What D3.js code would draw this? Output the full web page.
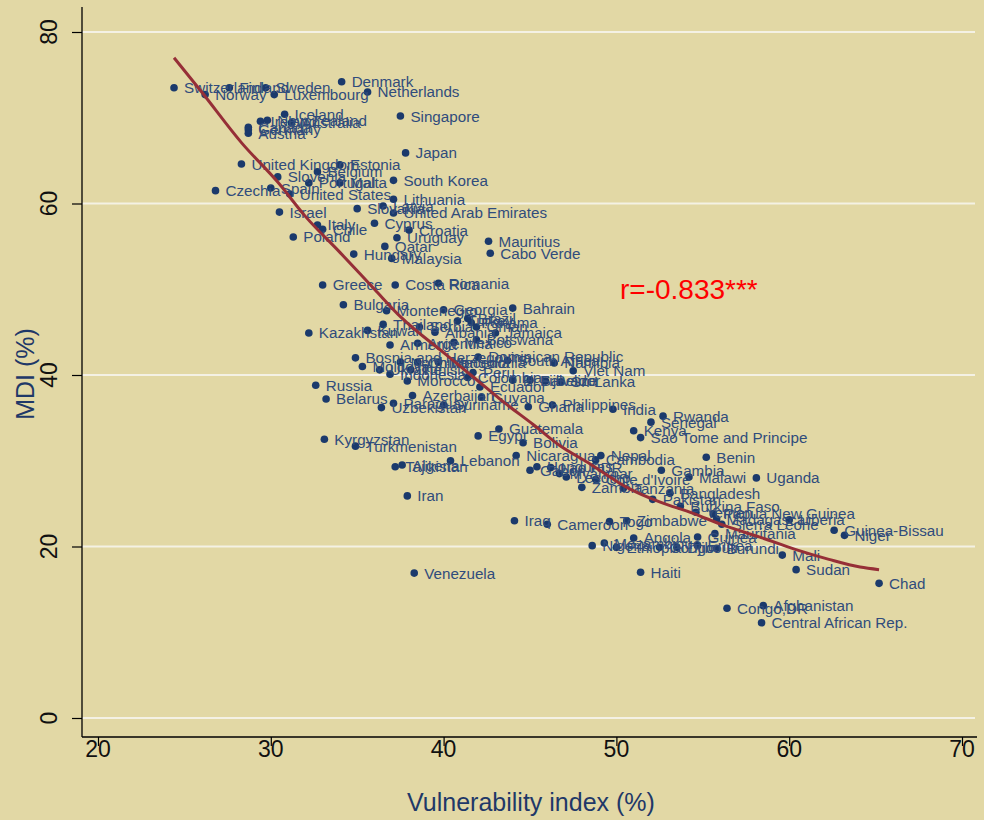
<!DOCTYPE html>
<html>
<head>
<meta charset="utf-8">
<script src="https://cdn.jsdelivr.net/npm/d3@7"></script>
<style>
  html, body { margin: 0; padding: 0; background: #e2d8a5; }
  svg { display: block; font-family: "Liberation Sans", Arial, sans-serif; }
</style>
</head>
<body>
<svg id="chart" width="984" height="820"></svg>
<script>
// Country names, vulnerability index (%) and MDI (%)
const countries = [
  "Switzerland","Norway","Finland","Sweden","Luxembourg","Denmark","Netherlands","Singapore",
  "Iceland","Ireland","New Zealand","Australia","Canada","Germany","Austria",
  "United Kingdom","Estonia","Belgium","Slovenia","Spain","Portugal","Malta","Czechia",
  "United States","Israel","Italy","Chile","Poland","Slovakia","Latvia","Lithuania",
  "South Korea","Japan","United Arab Emirates","Cyprus","Croatia","Uruguay","Qatar","Malaysia",
  "Hungary","Mauritius","Cabo Verde","Greece","Costa Rica","Romania","Bulgaria","Montenegro",
  "Georgia","Bahrain","Kazakhstan","Kuwait","Thailand","Serbia","Albania","Turkey","Brazil",
  "Panama","Oman","Jamaica","Armenia","Argentina","Mexico","Botswana","Bosnia and Herzegovina",
  "Moldova","Ukraine","Indonesia","North Macedonia","Tunisia","China","Mongolia",
  "Dominican Republic","South Africa","Namibia","Viet Nam","Peru","Colombia","Ecuador",
  "El Salvador","Fiji","Belize","Sri Lanka","Morocco","Azerbaijan","Paraguay","Uzbekistan",
  "Suriname","Guyana","Ghana","Philippines","Russia","Belarus","India","Guatemala","Egypt",
  "Bolivia","Kyrgyzstan","Turkmenistan","Algeria","Tajikistan","Lebanon","Iran","Venezuela",
  "Nicaragua","Gabon","Honduras","Lao PDR","Myanmar","Lesotho","Zambia","Cote d'Ivoire",
  "Nepal","Cambodia","Tanzania","Gambia","Malawi","Benin","Uganda","Rwanda","Senegal","Kenya",
  "Sao Tome and Principe","Bangladesh","Pakistan","Burkina Faso","Yemen","Papua New Guinea",
  "Madagascar","Sierra Leone","Liberia","Guinea-Bissau","Niger","Guinea","Mauritania","Mali",
  "Burundi","Eritrea","Congo","Angola","Mozambique","Nigeria","Ethiopia","Djibouti","Togo",
  "Zimbabwe","Cameroon","Iraq","Haiti","Sudan","Chad","Congo,DR","Afghanistan",
  "Central African Rep."
];
const vulnerability = [
  24.4,26.2,27.6,29.7,30.2,34.1,35.6,37.5,
  30.8,29.4,29.8,31.2,28.7,28.7,28.7,
  28.3,34.0,32.7,30.4,30.0,32.2,34.0,26.8,
  31.1,30.5,32.7,33.0,31.3,35.0,36.5,37.1,
  37.1,37.8,37.1,36.0,38.0,37.3,36.6,37.0,
  34.8,42.6,42.7,33.0,37.2,39.7,34.2,36.7,
  40.0,44.0,32.2,35.6,36.5,38.6,39.5,40.8,41.4,
  41.6,41.9,43.0,36.9,38.5,40.6,41.9,34.9,
  35.3,36.3,36.9,37.5,38.1,38.5,39.7,
  42.0,43.7,46.4,47.5,41.7,41.4,42.1,
  44.0,45.0,45.9,46.8,37.9,38.2,37.1,36.4,
  40.0,42.2,44.9,46.3,32.6,33.2,49.8,43.2,42.0,
  44.6,33.1,34.9,37.6,37.2,40.4,37.9,38.3,
  44.2,45.0,45.4,46.2,46.7,47.1,48.0,48.8,
  49.1,48.8,50.4,52.6,54.2,55.2,58.1,52.7,52.0,51.0,
  51.4,53.1,52.1,53.7,54.6,55.6,
  55.8,56.1,60.0,62.6,63.2,54.7,55.7,59.6,
  55.8,54.7,52.5,51.0,49.3,48.6,50.0,53.5,49.6,
  50.6,46.0,44.1,51.4,60.4,65.2,56.4,58.5,
  58.4
];
const mdi = [
  73.5,72.7,73.5,73.5,72.7,74.2,73.0,70.2,
  70.4,69.6,69.7,69.4,68.9,68.6,68.2,
  64.6,64.5,63.7,63.1,61.8,62.4,62.4,61.5,
  61.1,59.0,57.5,57.0,56.1,59.4,59.7,60.5,
  62.7,65.9,58.9,57.7,56.9,56.0,55.0,53.6,
  54.1,55.6,54.2,50.5,50.5,50.7,48.2,47.5,
  47.6,47.8,44.9,45.2,45.9,45.6,45.0,46.3,46.6,
  46.1,45.6,44.9,43.5,43.7,43.8,44.1,42.0,
  41.0,40.6,40.1,41.5,40.6,41.5,41.5,
  42.1,41.7,41.4,40.5,40.3,39.7,38.6,
  39.4,39.4,39.3,39.2,39.3,37.6,36.7,36.2,
  36.5,37.4,36.3,36.5,38.8,37.2,36.0,33.7,32.9,
  32.1,32.5,31.7,29.5,29.3,30.0,25.9,16.9,
  30.6,28.9,29.3,29.2,28.5,28.1,26.9,27.8,
  30.6,30.1,26.8,28.9,28.1,30.4,28.0,35.2,34.5,33.5,
  32.7,26.2,25.5,24.7,24.0,23.8,
  23.2,22.6,23.1,21.9,21.3,21.1,21.5,19.0,
  19.8,20.1,19.9,21.0,20.4,20.1,19.9,19.9,22.9,
  23.0,22.6,23.0,17.0,17.3,15.7,12.8,13.1,
  11.1
];

// Fitted trend
const fitX = [24.4, 26.0, 28.3, 30.4, 32.0, 34.0, 36.0, 37.5, 40.0, 41.7, 43.5, 45.2,
              46.7, 48.5, 50.6, 52.5, 54.4, 56.3, 58.3, 60.3, 62.3, 64.1, 65.2];
const fitY = [77.0, 73.0, 67.1, 62.5, 58.5, 54.3, 50.0, 46.8, 42.6, 39.8, 36.8, 34.2,
              31.8, 29.6, 26.9, 25.2, 23.9, 22.4, 21.1, 19.7, 18.5, 17.6, 17.3];

const xTicks = [20, 30, 40, 50, 60, 70];
const yTicks = [0, 20, 40, 60, 80];
const corrLabel = "r=-0.833***";

const svg = d3.select("#chart");
const W = 984, H = 820;
svg.append("rect").attr("width", W).attr("height", H).attr("fill", "#e2d8a5");

// plot region edges
const plotLeft = 82, plotRight = 977, plotTop = 7, plotBottom = 737;

const x = d3.scaleLinear().domain([20, 70]).range([98, 962]);
const y = d3.scaleLinear().domain([0, 80]).range([718, 32]);

// horizontal grid
svg.append("g").selectAll("line").data(yTicks).join("line")
  .attr("x1", plotLeft).attr("x2", 975)
  .attr("y1", d => y(d)).attr("y2", d => y(d))
  .attr("stroke", "#f4f1e4").attr("stroke-width", 2.2);

// axes
const yAxis = svg.append("g").attr("transform", `translate(${plotLeft},0)`)
  .call(d3.axisLeft(y).tickValues(yTicks).tickSize(10).tickFormat(""));
yAxis.select(".domain").remove();
yAxis.selectAll(".tick line").attr("stroke", "#000").attr("stroke-width", 1.2);

const xAxis = svg.append("g").attr("transform", `translate(0,${plotBottom})`)
  .call(d3.axisBottom(x).tickValues(xTicks).tickSize(9).tickFormat(""));
xAxis.select(".domain").remove();
xAxis.selectAll(".tick line").attr("stroke", "#000").attr("stroke-width", 1.2);

svg.append("line").attr("x1", plotLeft).attr("x2", plotLeft).attr("y1", plotTop).attr("y2", plotBottom)
  .attr("stroke", "#000").attr("stroke-width", 1.3);
svg.append("line").attr("x1", plotLeft).attr("x2", plotRight).attr("y1", plotBottom).attr("y2", plotBottom)
  .attr("stroke", "#000").attr("stroke-width", 1.3);

// tick labels
svg.append("g").selectAll("text").data(xTicks).join("text")
  .attr("x", d => x(d)).attr("y", 757)
  .attr("text-anchor", "middle").attr("font-size", 23).attr("fill", "#111")
  .text(d => d);
svg.append("g").selectAll("text").data(yTicks).join("text")
  .attr("transform", d => `translate(57,${y(d)}) rotate(-90)`)
  .attr("text-anchor", "middle").attr("font-size", 23).attr("fill", "#111")
  .text(d => d);

// axis titles
svg.append("text").attr("x", 531).attr("y", 811).attr("text-anchor", "middle")
  .attr("font-size", 25).attr("fill", "#1f3868").text("Vulnerability index (%)");
svg.append("text").attr("transform", "translate(34,374) rotate(-90)")
  .attr("text-anchor", "middle").attr("font-size", 25).attr("fill", "#1f3868").text("MDI (%)");

// points and labels
const pts = countries.map((c, i) => ({ c, v: vulnerability[i], m: mdi[i] }));
const g = svg.append("g");
g.selectAll("circle").data(pts).join("circle")
  .attr("cx", d => x(d.v)).attr("cy", d => y(d.m)).attr("r", 3.8)
  .attr("fill", "#1b3a6c");
g.selectAll("text").data(pts).join("text")
  .attr("x", d => x(d.v) + 10).attr("y", d => y(d.m)).attr("dy", "0.36em")
  .attr("font-size", 15.2).attr("fill", "#304c7c")
  .text(d => d.c);

// trend curve
const fit = fitX.map((v, i) => [v, fitY[i]]);
svg.append("path").datum(fit)
  .attr("d", d3.line().x(d => x(d[0])).y(d => y(d[1])).curve(d3.curveMonotoneX))
  .attr("fill", "none").attr("stroke", "#962f37").attr("stroke-width", 3);

// correlation
svg.append("text").attr("x", 620).attr("y", 299).attr("font-size", 28)
  .attr("fill", "#ff0000").text(corrLabel);
</script>
</body>
</html>
